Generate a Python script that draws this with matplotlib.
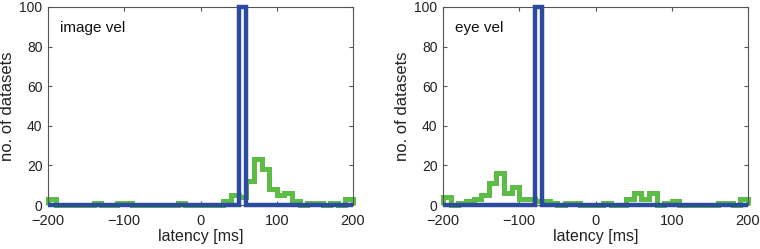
import numpy as np
import matplotlib.pyplot as plt

# bin edges, 10 ms wide
edges = np.arange(-200, 201, 10)

# green histograms (counts per bin, -200..200)
image_vel = [3, 0, 0, 0, 0, 0, 1, 0, 0, 1, 1, 0, 0, 0, 0, 0, 0, 1, 0, 0,
             0, 0, 0, 2, 5, 4, 12, 23, 18, 8, 5, 6, 2, 0, 1, 1, 0, 1, 0, 3]
eye_vel = [4, 0, 1, 2, 3, 5, 11, 16, 6, 9, 3, 3, 2, 2, 1, 0, 1, 1, 0, 0,
           0, 1, 0, 0, 3, 6, 3, 6, 0, 1, 2, 0, 0, 0, 0, 0, 1, 1, 0, 3]

# blue histograms: single bin at 100
image_blue = np.zeros(40)
image_blue[25] = 100
eye_blue = np.zeros(40)
eye_blue[12] = 100

titles = ["image vel", "eye vel"]
greens = [image_vel, eye_vel]
blues = [image_blue, eye_blue]

green = "#5cbc45"
blue = "#2c4a9e"
grey = "#555555"

plt.rcParams['font.family'] = ['Liberation Sans', 'DejaVu Sans']

fig = plt.figure(figsize=(7.6, 2.49), dpi=100)
lefts = [48 / 760, 443 / 760]

for i in range(2):
    ax = fig.add_axes([lefts[i], 44 / 249, 305 / 760, 198 / 249])
    ax.stairs(greens[i], edges, color=green, linewidth=3.6, clip_on=False, zorder=2)
    ax.stairs(blues[i], edges, color=blue, linewidth=3.2, clip_on=False, zorder=3)
    ax.set_xlim(-200, 200)
    ax.set_ylim(0, 100)
    ax.set_xticks([-200, -100, 0, 100, 200])
    ax.set_yticks([0, 20, 40, 60, 80, 100])
    ax.tick_params(direction='in', top=True, right=True, length=3,
                   colors=grey, labelcolor="#222222", labelsize=10.5)
    ax.tick_params(axis='x', pad=6.5)
    ax.tick_params(axis='y', pad=4, labelsize=10)
    for s in ax.spines.values():
        s.set_color(grey)
        s.set_linewidth(0.8)
    ax.set_xlabel("latency [ms]", fontsize=11.5, color="#222222", labelpad=1)
    ax.set_ylabel("no. of datasets", fontsize=12, color="#222222", labelpad=3)
    ax.text(0.04, 0.93, titles[i], transform=ax.transAxes, fontsize=11,
            va='top', ha='left', color="#111111")

fig.savefig("out.png", dpi=100)
